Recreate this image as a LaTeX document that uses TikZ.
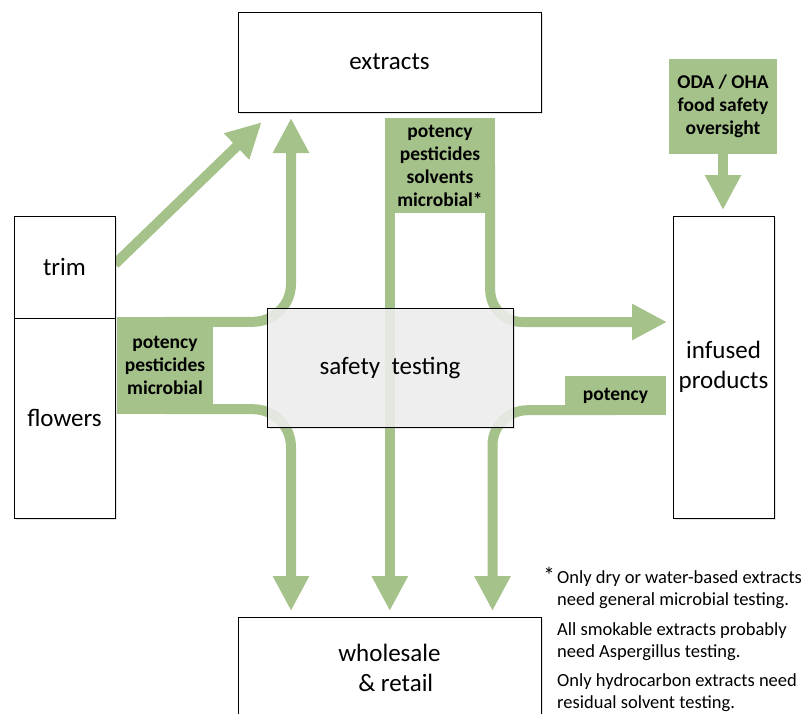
\documentclass[tikz,border=0pt]{standalone}
\usepackage{fontspec}
\setmainfont{Carlito}
\usepackage{xcolor}
\usetikzlibrary{arrows.meta,positioning,shadows,backgrounds}
\definecolor{testgreen}{RGB}{165,194,138}

\begin{document}
\begin{tikzpicture}[x=1pt, y=-1pt]
	% % % % % % % % % % % % % % % % % % % % % % % % % % % % % %
	% Define styles
	\tikzstyle{block} = [rectangle, draw, fill=white, line width=0.9pt, inner sep=0pt, outer sep=0pt,
					     align=center, font=\fontsize{25}{30}\selectfont,
					     drop shadow={shadow xshift=1.5pt, shadow yshift=-1.5pt, opacity=0.2}]
	\tikzstyle{testbox} = [rectangle, fill=testgreen, inner sep=0pt, align=center,
					       font=\fontsize{19.5}{23}\selectfont\bfseries]
	\tikzstyle{flow} = [draw=testgreen, line width=10pt, -{Triangle[width=34pt, length=35pt]}, shorten >=6pt]
	\tikzstyle{note} = [inner sep=0pt, align=left, font=\fontsize{18.5}{22}\selectfont]
	
	\useasboundingbox (0,0) rectangle (801,713);
	
	% % % % % % % % % % % % % % % % % % % % % % % % % % % % % %
	% Place nodes
	% products
	\node [block, minimum width=303pt, minimum height=100pt] (extracts) at (389.5,62) {extracts};
	\node [block, minimum width=101pt, minimum height=102pt] (trim) at (64.5,267) {trim};
	\node [block, minimum width=101pt, minimum height=200pt, below=0pt of trim] (flowers) {flowers};
	\node [block, minimum width=101pt, minimum height=302pt] (infused) at (723.5,367) {infused\\products};
	\node [block, minimum width=303pt, minimum height=102pt] (wholesale) at (389.5,668) {wholesale\\\hspace*{0.5em}\& retail};
	% testing in the middle
	\node [block, fill=gray!12, fill opacity=0.85, text opacity=1, minimum width=246pt, minimum height=119pt] (safety) at (390,367.5) {safety\ \ testing};
	% green test labels
	\node [testbox, minimum width=96pt, minimum height=97pt] (rawtests) at (165,365.5) {potency\\pesticides\\microbial};
	\node [testbox, minimum width=110pt, minimum height=95pt, below=6pt of extracts, xshift=50.5pt] (extests) {potency\\pesticides\\solvents\\microbial*};
	\node [testbox, minimum width=101pt, minimum height=39pt] (inftests) at (615.5,395.5) {potency};
	\node [testbox, minimum width=108pt, minimum height=95pt] (oversight) at (723,106.5) {ODA / OHA\\food safety\\oversight};
	% footnotes
	\node [note, anchor=north west] (note1) at (557,570) {Only dry or water-based extracts\\need general microbial testing.};
	\node [note, below=14pt of note1.south west, anchor=north west] (note2) {All smokable extracts probably\\need Aspergillus testing.};
	\node [note, below=13pt of note2.south west, anchor=north west] (note3) {Only hydrocarbon extracts need\\residual solvent testing.};
	\node [inner sep=0pt, font=\fontsize{23}{23}\selectfont, anchor=north east] (star) at ([xshift=-2pt, yshift=3pt]note1.north west) {*};
	
	% % % % % % % % % % % % % % % % % % % % % % % % % % % % % %
	% Draw edges
	\begin{scope}[on background layer]
	\fill [white] (0,0) rectangle (801,713);
	% % raw material
	\path [flow] ([yshift=3pt]trim.east) -- ([xshift=28pt, yshift=-6pt]extracts.south west);
	\path [flow, rounded corners=38pt] ([yshift=-5pt]rawtests.north) -| ([xshift=-98.5pt]extracts.south);
	\path [flow, rounded corners=38pt] ([yshift=5pt]rawtests.south) -| ([xshift=-98.5pt]wholesale.north);
	% % extracts
	\path [flow] ([xshift=5pt]extests.west) -- ([xshift=5pt]extests.west |- wholesale.north);
	\path [flow, rounded corners=32pt] ([xshift=-5pt]extests.east) |- ([yshift=45pt]infused.west);
	% % infused products
	\path [flow, rounded corners=35pt] ([yshift=5pt]inftests.south) -| ([xshift=103pt]wholesale.north);
	\path [flow] (oversight) -- (oversight |- infused.north);
	\end{scope}
\end{tikzpicture}
\end{document}
